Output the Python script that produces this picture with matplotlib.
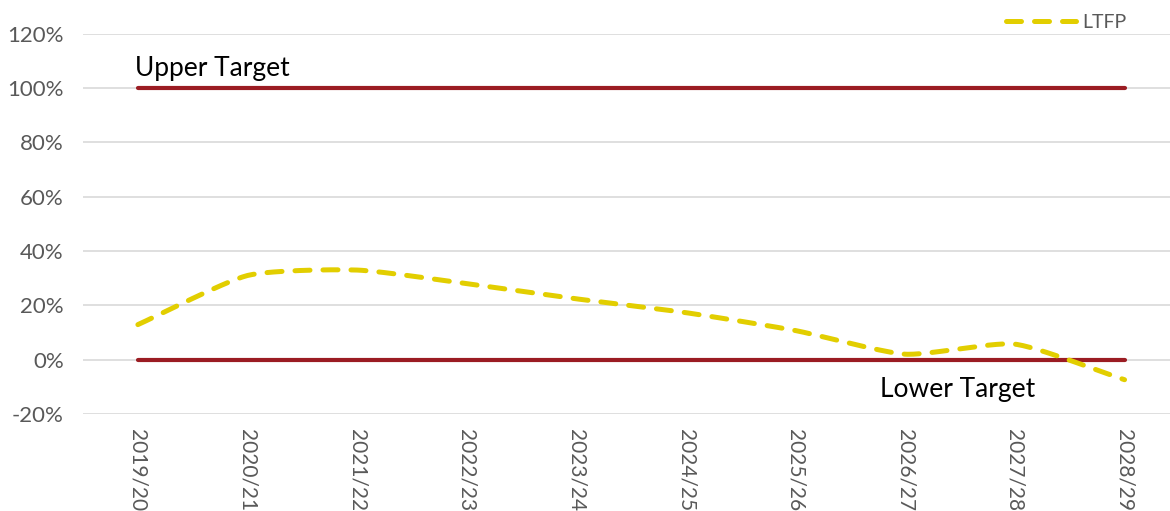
import numpy as np
import matplotlib.pyplot as plt
from matplotlib.lines import Line2D

years = ['2019/20', '2020/21', '2021/22', '2022/23', '2023/24',
         '2024/25', '2025/26', '2026/27', '2027/28', '2028/29']
ltfp = [0.129, 0.31, 0.33, 0.28, 0.224, 0.173, 0.107, 0.02, 0.057, -0.074]
upper = [1.0] * len(years)
lower = [0.0] * len(years)


def smooth(x, y, k=0.6, n=30):
    # cardinal spline, a bit tighter than Catmull-Rom (like Excel smoothing)
    x = np.asarray(x, float)
    y = np.asarray(y, float)
    px = np.concatenate([[2 * x[0] - x[1]], x, [2 * x[-1] - x[-2]]])
    py = np.concatenate([[2 * y[0] - y[1]], y, [2 * y[-1] - y[-2]]])
    t = np.linspace(0, 1, n)
    h00 = 2 * t**3 - 3 * t**2 + 1
    h10 = t**3 - 2 * t**2 + t
    h01 = -2 * t**3 + 3 * t**2
    h11 = t**3 - t**2
    xs, ys = [], []
    for i in range(1, len(px) - 2):
        for arr, out in ((px, xs), (py, ys)):
            m1 = k * 0.5 * (arr[i + 1] - arr[i - 1])
            m2 = k * 0.5 * (arr[i + 2] - arr[i])
            out.append(h00 * arr[i] + h10 * m1 + h01 * arr[i + 1] + h11 * m2)
    return np.concatenate(xs), np.concatenate(ys)


plt.rcParams['font.family'] = ['Lato', 'DejaVu Sans']

fig = plt.figure(figsize=(11.7, 5.11), dpi=100)
ax = fig.add_axes([0.071, 0.19, 0.937, 0.7436])

x = np.arange(len(years))
red = '#9B1C23'
yellow = '#E2CE00'
dash = (0, (3.0, 2.6))

ax.plot(x, upper, color=red, lw=3, solid_capstyle='round', zorder=3)
ax.plot(x, lower, color=red, lw=3, solid_capstyle='round', zorder=3)
sx, sy = smooth(x, ltfp)
ax.plot(sx, sy, color=yellow, lw=3.6, ls=dash,
        dash_capstyle='round', zorder=4)

ax.set_xlim(-0.5, len(years) - 0.5)
ax.set_ylim(-0.2, 1.2)
ax.set_yticks(np.arange(-0.2, 1.21, 0.2))
ax.set_yticklabels([f'{int(round(v * 100))}%' for v in np.arange(-0.2, 1.21, 0.2)],
                   fontsize=16)
ax.set_xticks(x)
ax.set_xticklabels(years, rotation=-90, fontsize=15)
ax.tick_params(axis='both', length=0, labelcolor='#595959')
ax.tick_params(axis='y', pad=14)
ax.tick_params(axis='x', pad=11)
ax.grid(axis='y', color='#D9D9D9', lw=1.2)
ax.set_axisbelow(True)
for s in ax.spines.values():
    s.set_visible(False)

ax.text(-0.03, 1.025, 'Upper Target', fontsize=19, color='black',
        ha='left', va='bottom')
ax.text(7.48, -0.11, 'Lower Target', fontsize=19, color='black',
        ha='center', va='center')

handle = Line2D([], [], color=yellow, lw=3.6, ls=dash,
                dash_capstyle='round')
ax.legend([handle], ['LTFP'], loc='upper right', bbox_to_anchor=(0.968, 1.098),
          frameon=False, fontsize=14, labelcolor='#595959',
          handlelength=3.6, handletextpad=0.35)

fig.savefig('out.png', dpi=100)
